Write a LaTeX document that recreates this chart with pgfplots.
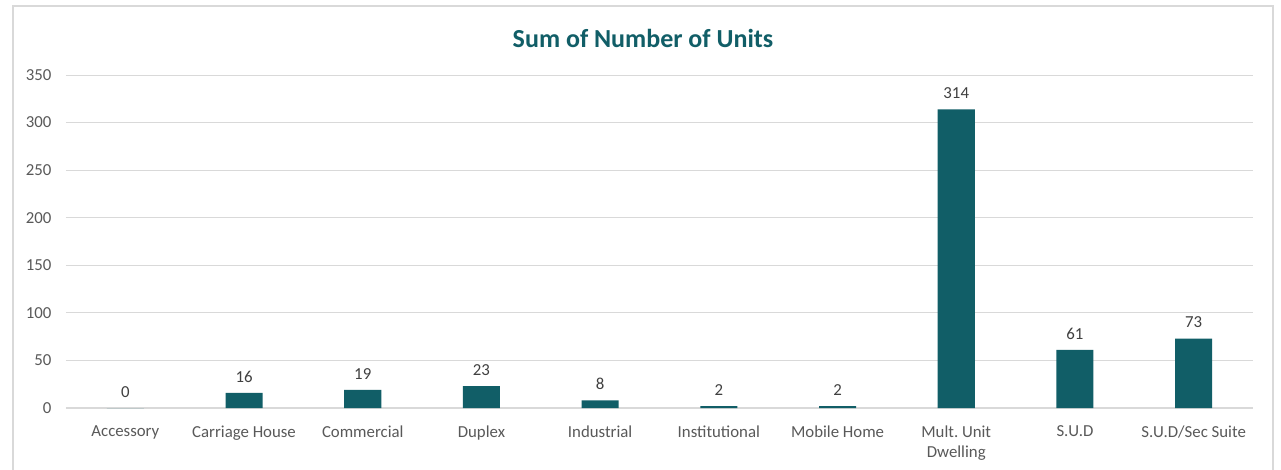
\documentclass[border=0pt]{standalone}
\usepackage{fontspec}
\setmainfont{Carlito}
\usepackage{pgfplots}
\pgfplotsset{compat=1.18}
\definecolor{teal1}{RGB}{17,94,103}
\definecolor{gridc}{RGB}{217,217,217}
\definecolor{tickc}{RGB}{89,89,89}
\definecolor{labc}{RGB}{64,64,64}
\begin{document}
\begin{tikzpicture}[x=1pt,y=1pt]
\useasboundingbox (0,0) rectangle (1281,469);
\fill[white] (0,0) rectangle (1281,469);
\draw[gridc, line width=1.2pt] (13,-5) rectangle (1273,463);
\node[font=\fontsize{26}{30}\selectfont\bfseries, text=teal1] at (643,431) {Sum of Number of Units};
\begin{axis}[
  at={(66pt,61pt)}, anchor=south west,
  scale only axis, width=1187pt, height=333pt,
  xmin=-0.5, xmax=9.5, ymin=0, ymax=350,
  ytick={0,50,...,350},
  xtick={0,...,9},
  xticklabels={Accessory,Carriage House,Commercial,Duplex,Industrial,Institutional,Mobile Home,{Mult.~Unit\\Dwelling},S.U.D,S.U.D/Sec Suite},
  xticklabel style={align=center, font=\fontsize{16.8}{20}\selectfont, text=tickc, yshift=-14pt},
  yticklabel style={font=\fontsize{16.8}{20}\selectfont, text=tickc, xshift=-11pt},
  /pgf/number format/assume math mode=true,
  ymajorgrids, grid style={gridc, line width=1pt},
  major tick length=0pt,
  axis x line*=bottom, axis y line*=left,
  y axis line style={draw=none},
  x axis line style={gridc, line width=1.2pt, -},
  ybar, bar width=37pt,
  nodes near coords,
  every node near coord/.append style={font=\fontsize{16.8}{20}\selectfont, text=labc, yshift=7pt},
  clip=false,
]
\addplot[fill=teal1, draw=none] coordinates {(0,0) (1,16) (2,19) (3,23) (4,8) (5,2) (6,2) (7,314) (8,61) (9,73)};
\end{axis}
\end{tikzpicture}
\end{document}
